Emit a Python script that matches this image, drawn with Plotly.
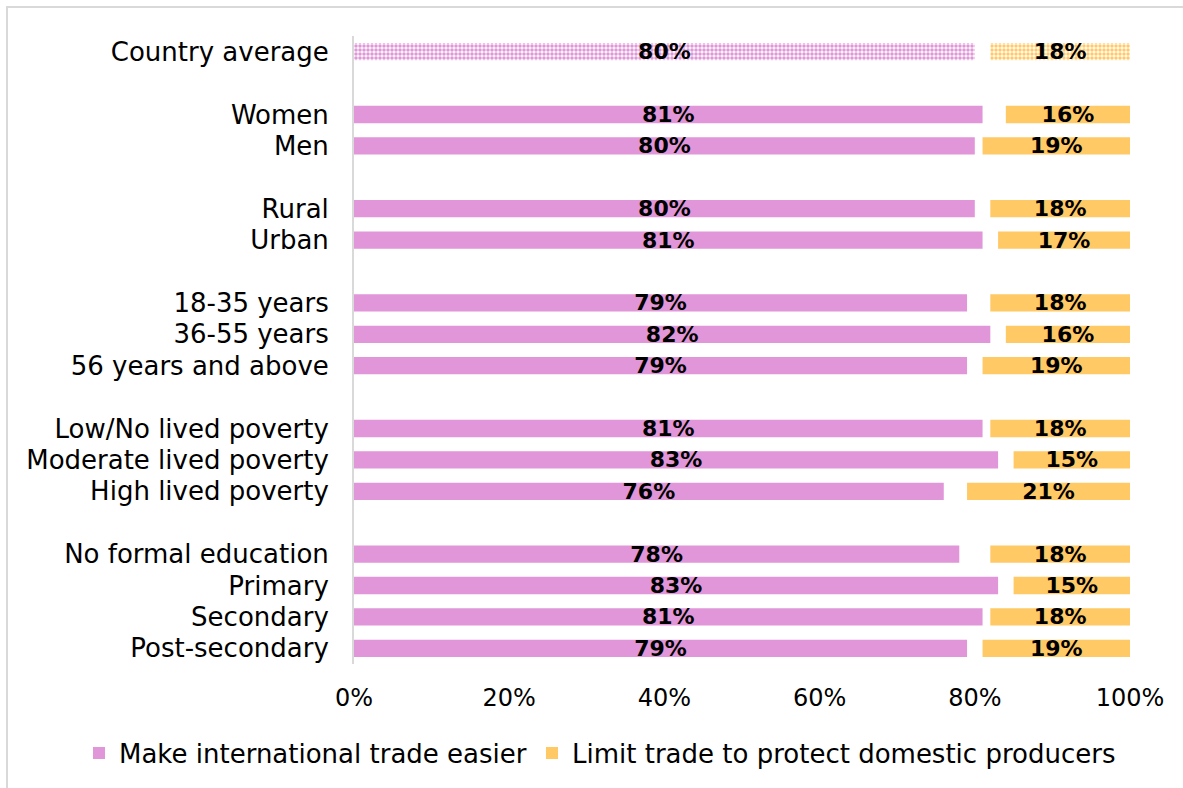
import plotly.graph_objects as go

# ---- data ----
groups = [
    ["Country average"],
    ["Women", "Men"],
    ["Rural", "Urban"],
    ["18-35 years", "36-55 years", "56 years and above"],
    ["Low/No lived poverty", "Moderate lived poverty", "High lived poverty"],
    ["No formal education", "Primary", "Secondary", "Post-secondary"],
]
easier = [80, 81, 80, 80, 81, 79, 82, 79, 81, 83, 76, 78, 83, 81, 79]
limit = [18, 16, 19, 18, 17, 18, 16, 19, 18, 15, 21, 18, 15, 18, 19]
x_ticks = [0, 20, 40, 60, 80, 100]
series_names = ["Make international trade easier", "Limit trade to protect domestic producers"]

PINK = "#E096D8"
YELLOW = "#FFC966"
FONT = "DejaVu Sans"

# slot positions with a blank slot between groups
categories, pos = [], []
slot = 0
for g in groups:
    for c in g:
        categories.append(c)
        pos.append(slot)
        slot += 1
    slot += 1
last_pos = pos[-1]

limit_base = [100 - v for v in limit]

fig = go.Figure()
LABEL_FONT = dict(family=FONT, size=22, color="black", weight="bold")


def add_pair(idx, pattern, showlegend):
    ys = [pos[i] for i in idx]
    e = [easier[i] for i in idx]
    l = [limit[i] for i in idx]
    b = [limit_base[i] for i in idx]
    if pattern:
        pat_e = dict(shape=".", fgcolor=PINK, bgcolor="white", size=4, solidity=0.6, fillmode="replace")
        pat_l = dict(shape=".", fgcolor=YELLOW, bgcolor="white", size=4, solidity=0.6, fillmode="replace")
    else:
        pat_e = pat_l = dict(shape="")
    fig.add_trace(go.Bar(
        y=ys, x=e, orientation="h", name=series_names[0],
        marker=dict(color=PINK, line=dict(width=0), pattern=pat_e),
        width=0.55, text=[f"{v}%" for v in e], textposition="inside",
        insidetextanchor="middle", constraintext="none", textfont=LABEL_FONT,
        showlegend=showlegend, legend="legend", cliponaxis=False,
    ))
    fig.add_trace(go.Bar(
        y=ys, x=l, base=b, orientation="h", name=series_names[1],
        marker=dict(color=YELLOW, line=dict(width=0), pattern=pat_l),
        width=0.55, text=[f"{v}%" for v in l], textposition="inside",
        insidetextanchor="middle", constraintext="none", textfont=LABEL_FONT,
        showlegend=showlegend, legend="legend2", cliponaxis=False,
    ))


add_pair([0], True, False)
add_pair(list(range(1, len(categories))), False, True)

L, R, T, B = 354, 53, 36, 124
W, H = 1183, 788
pw, ph = W - L - R, H - T - B

leg_common = dict(orientation="h", xref="container", xanchor="left",
                  yref="container", y=1 - 753 / H, yanchor="middle",
                  font=dict(family=FONT, size=26), bgcolor="rgba(0,0,0,0)")

fig.update_layout(
    width=W, height=H,
    barmode="overlay",
    plot_bgcolor="white", paper_bgcolor="white",
    margin=dict(l=L, r=R, t=T, b=B, pad=0, autoexpand=False),
    font=dict(family=FONT, size=26, color="black"),
    legend=dict(x=79 / W, **leg_common),
    legend2=dict(x=532 / W, **leg_common),
    showlegend=True,
    shapes=[dict(type="rect", xref="paper", yref="paper",
                 x0=(7 - L) / pw, x1=(W + 10 - L) / pw,
                 y0=(T + ph - (H + 10)) / ph, y1=(T + ph - 7) / ph,
                 line=dict(color="#D9D9D9", width=2), fillcolor="rgba(0,0,0,0)")],
)
fig.update_xaxes(range=[0, 100], tickvals=x_ticks, ticktext=[f"{v}%" for v in x_ticks],
                 showgrid=False, zeroline=False, showline=False, ticks="",
                 ticklabelstandoff=17, tickfont=dict(family=FONT, size=24))
fig.update_yaxes(range=[last_pos + 0.5, -0.5], tickvals=pos, ticktext=categories,
                 showgrid=False, zeroline=False, showline=True, linecolor="#D9D9D9",
                 linewidth=2, ticks="", ticklabelstandoff=18,
                 tickfont=dict(family=FONT, size=26))

fig.write_html("out.html", config={"displayModeBar": False},
               post_script="document.body.style.margin='0';document.body.style.overflow='hidden';")
